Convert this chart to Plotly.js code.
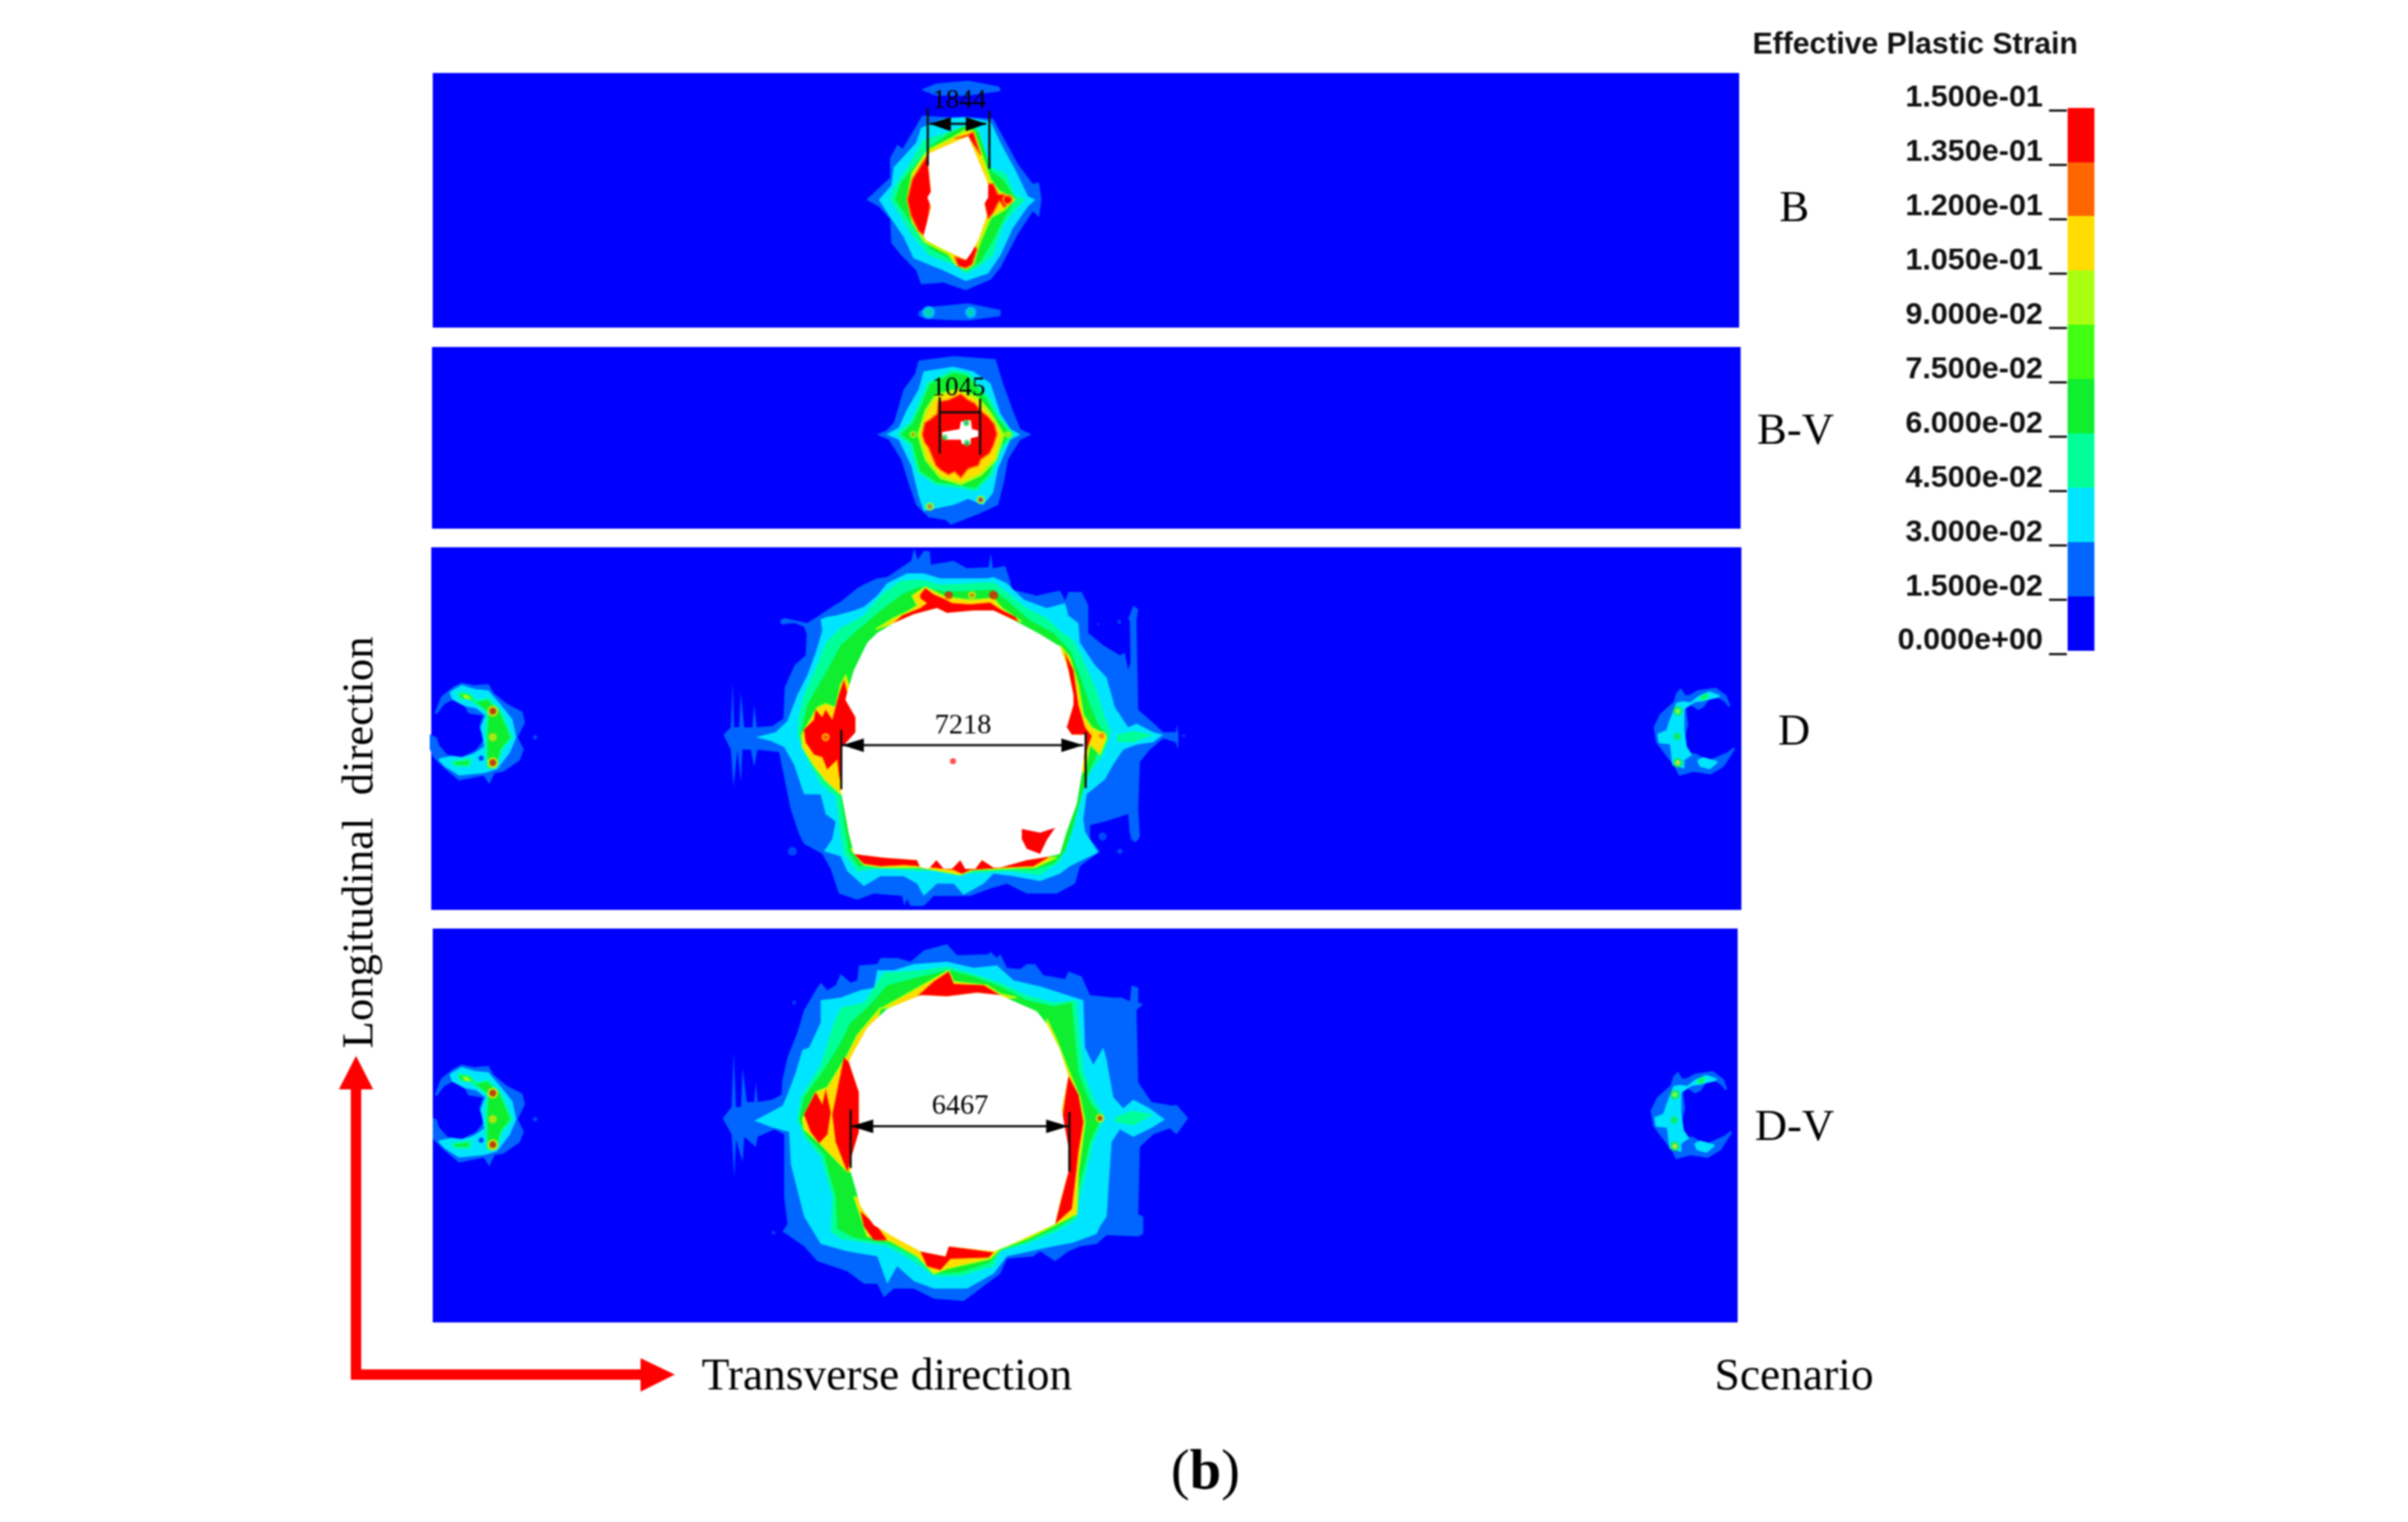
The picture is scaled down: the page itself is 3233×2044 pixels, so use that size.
<!DOCTYPE html>
<html><head><meta charset="utf-8">
<script src="https://cdn.plot.ly/plotly-3.0.1.min.js"></script>
<style>html,body{margin:0;padding:0;background:#fff}#g{width:3233px;height:2044px;filter:blur(0.8px)}</style>
</head><body><div id="g"></div>
<script>
// ---------- legend values ----------
const levels = [0,0.015,0.03,0.045,0.06,0.075,0.09,0.105,0.12,0.135];
const bandHeight = 0.015;
const bandColors = ['#0000ff','#0066ff','#00e5ff','#00ff99','#10ee30','#40ff10','#aaff10','#ffdd00','#ff6600','#ff0000'];
const tickVals = [0,0.015,0.03,0.045,0.06,0.075,0.09,0.105,0.12,0.135,0.15];
const tickText = ['0.000e+00','1.500e-02','3.000e-02','4.500e-02','6.000e-02','7.500e-02','9.000e-02','1.050e-01','1.200e-01','1.350e-01','1.500e-01'];
const scenarios = ['B','B-V','D','D-V'];
const widths = ['1844','1045','7218','6467'];

// ---------- scenario D contours ----------
const D_blue=[[48,800],[70,770],[75,590],[80,770],[95,770],[100,630],[110,770],[135,770],[140,680],[148,770],[195,765],[228,735],[232,610],[262,520],[295,480],[298,395],[290,365],[262,350],[225,355],[218,340],[232,330],[265,340],[300,350],[335,320],[385,275],[400,265],[450,210],[470,195],[510,170],[540,165],[590,120],[612,100],[622,50],[632,95],[650,60],[668,60],[672,115],[740,100],[780,130],[845,125],[852,70],[858,130],[895,120],[910,180],[915,215],[990,240],[1040,225],[1060,220],[1075,260],[1085,225],[1125,225],[1145,280],[1145,390],[1190,440],[1240,480],[1255,470],[1265,540],[1272,510],[1270,340],[1265,335],[1280,280],[1295,295],[1290,340],[1292,460],[1295,700],[1330,740],[1370,790],[1408,790],[1412,760],[1416,800],[1415,860],[1408,830],[1370,815],[1330,860],[1300,910],[1295,1100],[1300,1210],[1285,1235],[1270,1200],[1265,1120],[1195,1150],[1150,1165],[1150,1220],[1180,1270],[1150,1300],[1120,1330],[1105,1400],[1050,1440],[1000,1440],[960,1440],[900,1400],[850,1420],[790,1450],[680,1450],[650,1490],[610,1490],[600,1460],[592,1490],[585,1450],[500,1440],[450,1465],[395,1440],[370,1340],[345,1280],[290,1240],[275,1200],[250,1100],[225,940],[215,870],[150,860],[140,930],[130,860],[105,860],[100,990],[90,860],[78,1010],[70,860]];
const D_cyan=[[145,810],[205,790],[240,745],[270,640],[300,560],[325,470],[345,380],[340,335],[360,325],[385,320],[440,300],[470,285],[510,240],[540,190],[600,150],[650,150],[700,170],[770,170],[840,170],[860,165],[900,190],[950,255],[1020,290],[1075,270],[1085,320],[1115,350],[1120,430],[1165,520],[1200,570],[1225,690],[1265,770],[1290,755],[1340,790],[1370,800],[1340,830],[1290,840],[1250,860],[1220,920],[1195,980],[1140,1040],[1130,1140],[1135,1190],[1175,1275],[1135,1300],[1090,1330],[1060,1360],[1000,1390],[920,1370],[860,1360],[830,1400],[770,1445],[740,1400],[690,1400],[650,1450],[630,1400],[590,1370],[520,1370],[470,1410],[420,1350],[400,1290],[350,1270],[375,1220],[385,1150],[355,1120],[340,1040],[290,1040],[260,920],[230,850],[190,825]];
const D_spring=[[270,800],[275,720],[290,640],[330,520],[355,430],[400,370],[470,320],[520,240],[580,180],[640,175],[700,195],[800,190],[860,185],[900,225],[960,290],[1020,330],[1060,380],[1100,420],[1130,500],[1170,620],[1195,730],[1215,790],[1190,880],[1150,950],[1130,1020],[1105,1150],[1080,1250],[1060,1310],[1000,1365],[900,1350],[780,1360],[700,1345],[640,1350],[530,1340],[450,1350],[410,1280],[400,1200],[385,1050],[340,1000],[300,900]];
const D_green=[[280,800],[300,680],[360,540],[400,440],[450,380],[520,300],[590,230],[640,205],[720,225],[800,220],[860,215],[910,270],[970,340],[1040,390],[1090,460],[1120,560],[1150,680],[1175,760],[1200,800],[1170,880],[1145,960],[1125,1040],[1095,1190],[1075,1270],[1040,1320],[980,1345],[890,1340],[780,1350],[700,1335],[640,1340],[530,1330],[455,1330],[425,1270],[410,1150],[400,1040],[350,970],[310,880]];
const D_tail=[[1230,800],[1280,785],[1340,800],[1280,832],[1230,830]];
const D_yellowL=[[283,800],[318,715],[330,690],[355,675],[385,690],[400,600],[415,560],[425,600],[420,1040],[400,1040],[355,985],[320,925],[285,850]];
const D_yellowT=[[505,375],[560,330],[600,305],[630,280],[615,240],[655,205],[715,245],[790,258],[860,250],[885,290],[945,345],[860,310],[700,300],[600,335]];
const D_yellowR=[[1060,440],[1090,490],[1115,600],[1130,720],[1155,770],[1195,800],[1200,815],[1180,880],[1150,840],[1135,950],[1105,950]];
const D_yellowB=[[430,1260],[470,1325],[520,1335],[640,1335],[760,1365],[800,1345],[890,1340],[985,1335],[1050,1295],[900,1300]];
const D_redL=[[290,780],[320,740],[325,700],[345,730],[355,700],[375,740],[395,640],[410,580],[420,630],[415,660],[445,730],[445,800],[405,850],[405,1020],[395,960],[390,900],[360,940],[345,890],[320,880],[295,830]];
const D_redR=[[1075,470],[1100,540],[1115,680],[1135,770],[1155,805],[1140,860],[1130,900],[1140,800],[1095,800],[1080,770],[1100,680],[1100,640],[1085,540]];
const D_redT=[[640,235],[655,210],[680,235],[715,255],[735,270],[790,275],[850,268],[880,295],[925,325],[935,345],[860,300],[800,300],[720,310],[690,290],[620,315],[560,350],[585,320],[640,290],[660,270],[640,250]];
const D_redB=[[440,1280],[530,1295],[630,1305],[640,1335],[665,1340],[688,1305],[735,1340],[760,1305],[775,1340],[805,1340],[825,1305],[860,1335],[880,1335],[960,1305],[1030,1290],[980,1330],[890,1335],[790,1345],[765,1360],[740,1345],[640,1330],[590,1325],[520,1330],[470,1320]];
const D_hole=[[420,630],[440,540],[480,430],[510,390],[560,350],[620,315],[690,290],[720,310],[800,300],[860,300],[930,345],[1000,395],[1060,445],[1085,540],[1100,640],[1100,680],[1080,770],[1095,800],[1140,800],[1130,900],[1125,960],[1110,1080],[1080,1190],[1060,1280],[1030,1290],[960,1305],[880,1335],[860,1335],[825,1305],[805,1340],[775,1340],[760,1305],[735,1340],[710,1340],[688,1305],[665,1340],[640,1335],[630,1305],[530,1295],[440,1280],[425,1200],[400,1020],[405,850],[445,790],[445,730],[415,660]];
const D_patch=[[945,1180],[1000,1195],[1045,1175],[1020,1225],[1000,1280],[960,1260],[945,1220]];
const D_blueDots=[[255,1270,12],[1188,1210,11],[1240,1270,7],[1238,345,5],[1175,355,3],[228,345,8],[1285,1212,12],[1432,805,4]];
const D_redDots=[[738,907,8],[725,238,11],[860,238,12]];
const D_orangeDots=[[795,238,8],[1185,805,10],[355,810,8]];
const D_rule=[[402,780,402,1020],[1137,790,1137,1015],[405,842,1130,842]];
const D_headL=[[470,815],[405,842],[470,870]];
const D_headR=[[1064,815],[1130,842],[1064,870]];

// ---------- scenario D-V contours ----------
const DV_blue=[[45,785],[72,740],[78,520],[85,740],[100,740],[105,585],[118,720],[140,720],[145,640],[150,720],[195,710],[222,690],[225,630],[240,540],[270,440],[290,350],[325,270],[340,240],[360,270],[385,250],[400,205],[430,240],[450,230],[455,170],[510,165],[520,140],[570,140],[610,155],[650,110],[720,85],[750,130],[845,125],[850,115],[870,140],[880,125],[900,180],[940,185],[960,165],[985,165],[1010,210],[1075,225],[1085,195],[1125,215],[1150,290],[1220,300],[1245,300],[1270,315],[1275,250],[1295,260],[1295,320],[1310,325],[1290,350],[1295,640],[1335,720],[1400,735],[1410,730],[1445,785],[1410,850],[1390,825],[1340,850],[1300,900],[1295,1170],[1310,1180],[1310,1250],[1295,1260],[1200,1255],[1170,1290],[1120,1300],[1085,1320],[1045,1360],[1000,1320],[980,1340],[900,1350],[880,1410],[800,1490],[770,1520],[680,1510],[620,1470],[560,1470],[530,1505],[510,1450],[470,1450],[420,1400],[330,1360],[290,1300],[225,1240],[240,1210],[230,1100],[230,850],[200,830],[150,860],[145,900],[110,860],[105,960],[85,870],[80,1020],[72,850]];
const DV_cyan=[[140,795],[190,760],[225,735],[240,690],[265,600],[285,510],[305,500],[340,400],[340,310],[400,300],[460,270],[500,260],[510,190],[560,190],[620,165],[720,155],[800,180],[870,170],[920,230],[1000,255],[1080,290],[1130,310],[1135,500],[1160,570],[1190,500],[1200,550],[1220,700],[1250,745],[1280,710],[1330,745],[1375,790],[1340,820],[1280,860],[1240,830],[1215,880],[1200,1180],[1180,1220],[1170,1250],[1100,1285],[1040,1300],[900,1340],[860,1410],[780,1470],[680,1470],[620,1440],[570,1380],[540,1450],[510,1340],[420,1320],[340,1290],[290,1180],[250,970],[245,840],[190,820]];
const DV_spring=[[270,790],[280,700],[340,570],[380,400],[400,340],[470,320],[530,200],[640,190],[720,175],[800,205],[880,240],[960,290],[1040,320],[1110,310],[1130,600],[1165,720],[1195,780],[1160,880],[1120,1100],[1110,1190],[1050,1240],[960,1290],[880,1320],[860,1380],[760,1420],[680,1420],[620,1360],[540,1300],[400,1270],[370,1240],[375,1100],[340,940],[290,860]];
const DV_green=[[275,790],[290,700],[350,590],[400,480],[430,400],[480,340],[540,250],[640,215],[725,190],[800,215],[880,255],[960,310],[1040,335],[1095,320],[1115,600],[1150,720],[1185,780],[1150,880],[1110,1100],[1100,1185],[1050,1225],[960,1280],[880,1315],[850,1365],[760,1405],[690,1410],[630,1345],[550,1290],[440,1265],[390,1230],[385,1100],[350,930],[295,850]];
const DV_tail=[[1225,780],[1280,755],[1340,770],[1280,815],[1225,800]];
const DV_yellowL=[[285,790],[325,680],[360,660],[420,530],[450,450],[520,340],[470,600],[455,1000],[420,1000],[340,890],[290,830]];
const DV_yellowT=[[520,345],[600,285],[680,225],[725,190],[740,235],[840,250],[880,285],[930,300],[800,310],[620,320]];
const DV_yellowR=[[1020,385],[1050,470],[1085,590],[1120,700],[1135,800],[1115,1000],[1110,1170],[1045,1215],[1040,900]];
const DV_yellowB=[[440,1100],[480,1260],[550,1280],[630,1340],[680,1410],[720,1390],[850,1350],[880,1310],[960,1270],[1045,1215],[800,1250]];
const DV_redL=[[375,770],[410,540],[425,560],[455,680],[455,840],[430,960],[420,1000],[385,880]];
const DV_redO=[[290,770],[325,680],[345,730],[355,670],[370,760],[360,850],[335,885],[310,840]];
const DV_redR=[[1085,615],[1115,690],[1130,800],[1115,920],[1105,1040],[1095,1150],[1045,1210],[1085,1000],[1065,800]];
const DV_redT=[[630,295],[680,235],[725,195],[740,245],[830,250],[880,290],[810,280],[720,295],[650,290]];
const DV_redLL=[[460,1160],[510,1220],[540,1275],[500,1275],[470,1220]];
const DV_redB=[[640,1320],[715,1340],[725,1300],[860,1325],[845,1345],[730,1350],[700,1395],[660,1380]];
const DV_hole=[[430,540],[480,420],[540,345],[640,290],[720,295],[810,280],[880,290],[990,355],[1020,405],[1060,510],[1085,615],[1065,750],[1085,900],[1085,1000],[1060,1120],[1045,1210],[900,1300],[860,1320],[725,1300],[715,1340],[640,1320],[570,1270],[500,1215],[460,1140],[430,1000],[430,950],[455,840],[455,680],[425,560]];
const DV_redDots=[[1180,785,9]];
const DV_blueDots=[[198,1245,5],[260,320,5]];
const DV_rule=[[430,750,430,985],[1088,760,1088,1000],[430,817,1085,817]];
const DV_headL=[[498,790],[430,817],[498,845]];
const DV_headR=[[1018,790],[1085,817],[1018,845]];

// ---------- scenario B contours ----------
const B_blue=[[190,437],[240,400],[285,365],[285,300],[315,255],[335,270],[395,190],[415,160],[500,165],[590,165],[700,170],[740,230],[800,320],[860,385],[885,380],[895,437],[885,495],[860,475],[800,550],[730,660],[690,700],[590,735],[500,710],[410,715],[390,670],[330,620],[290,580],[285,500],[240,460]];
const B_blueTop=[[410,75],[470,55],[600,45],[725,65],[730,80],[600,95],[470,95]];
const B_blueBot=[[400,805],[440,790],[600,778],[730,800],[730,820],[600,835],[430,830],[400,820]];
const B_cyan=[[240,437],[290,390],[300,330],[390,250],[410,200],[500,170],[590,165],[690,180],[730,250],[790,340],[840,425],[870,437],[840,460],[780,530],[730,620],[680,680],[590,705],[500,670],[380,630],[340,560],[290,500]];
const B_spring=[[285,437],[300,400],[370,310],[420,240],[500,220],[580,195],[640,200],[690,330],[750,350],[790,420],[830,437],[790,470],[740,520],[700,620],[640,660],[590,680],[540,650],[440,620],[370,550],[320,480]];
const B_green=[[305,437],[330,380],[390,320],[440,265],[530,215],[600,190],[640,215],[695,345],[740,370],[790,437],[750,490],[700,570],[650,640],[590,672],[545,640],[450,600],[390,540],[335,470]];
const B_yellow=[[355,437],[375,350],[437,275],[540,232],[590,208],[622,212],[688,370],[725,410],[785,437],[745,470],[690,495],[645,580],[620,650],[590,665],[550,650],[520,615],[425,575],[375,510]];
const B_redL=[[355,437],[375,370],[440,285],[440,330],[450,410],[445,460],[430,560],[400,540],[370,490]];
const B_redR=[[680,385],[700,385],[720,420],[745,420],[775,437],[745,462],[725,440],[700,480],[680,500],[665,450]];
const B_redT=[[545,235],[595,225],[620,215],[650,290],[600,228]];
const B_redB=[[545,625],[590,635],[625,590],[635,600],[615,650],[590,662],[560,655]];
const B_hole=[[440,285],[600,228],[680,385],[680,430],[665,450],[675,490],[640,570],[610,615],[590,635],[500,600],[430,570],[420,555],[437,500],[450,460],[435,430],[450,410],[440,330]];
const B_cyanDots=[[440,808,14],[610,808,12]];
const B_rule=[[437,135,437,325],[685,145,685,335],[445,187,672,187]];
const B_headL=[[530,165],[445,187],[530,212]];
const B_headR=[[590,165],[672,187],[590,212]];

// ---------- scenario B-V contours ----------
const BV_blue=[[232,1208],[270,1195],[300,1170],[340,1060],[385,1010],[400,965],[540,950],[640,955],[710,960],[740,1040],[780,1130],[810,1190],[855,1208],[810,1225],[760,1290],[745,1360],[720,1440],[640,1470],[530,1505],[510,1490],[440,1480],[390,1440],[360,1370],[330,1290],[280,1225]];
const BV_cyan=[[270,1208],[320,1185],[350,1130],[400,1060],[420,1000],[540,985],[620,1000],[690,1040],[730,1140],[770,1190],[810,1208],[770,1225],[720,1320],[700,1400],[660,1440],[600,1420],[540,1440],[420,1460],[400,1410],[370,1310],[320,1225]];
const BV_green=[[320,1208],[370,1170],[400,1120],[440,1040],[540,1000],[600,1010],[680,1090],[720,1150],[780,1208],[725,1260],[690,1340],[630,1390],[570,1380],[470,1370],[400,1330],[370,1240]];
const BV_yellow=[[400,1208],[430,1130],[470,1080],[560,1060],[640,1090],[690,1140],[740,1208],[710,1290],[650,1340],[570,1370],[490,1350],[430,1290]];
const BV_red=[[415,1208],[425,1170],[445,1160],[475,1140],[480,1100],[520,1095],[570,1075],[600,1095],[625,1105],[650,1130],[680,1150],[705,1175],[715,1208],[700,1245],[685,1270],[650,1290],[640,1310],[600,1320],[570,1350],[545,1330],[520,1340],[490,1325],[470,1310],[450,1270],[440,1250],[425,1235]];
const BV_hole=[[495,1200],[565,1190],[570,1165],[610,1160],[615,1190],[640,1195],[640,1215],[610,1220],[610,1240],[575,1240],[570,1225],[510,1225],[495,1215]];
const BV_spots=[[378,1208,7,'#ff6600'],[760,1208,7,'#ffdd00'],[445,1445,9,'#ff6600'],[650,1423,9,'#ff0000']];
const BV_innerBlue=[[592,1170,6],[595,1236,6],[505,1218,5]];
const BV_rule=[[485,1085,485,1270],[648,1090,648,1275],[485,1135,648,1135]];

// ---------- side damage, left end and right end ----------
const SL_blue=[[135,235],[160,170],[210,130],[240,115],[290,125],[345,120],[365,155],[420,200],[480,230],[490,270],[460,330],[485,380],[470,420],[405,465],[370,470],[350,510],[330,480],[230,500],[170,450],[130,410],[110,365],[105,320],[135,335],[145,365],[180,405],[240,415],[300,385],[335,340],[315,290],[330,240],[270,230],[245,185],[200,175],[165,195]];
const SL_cyan=[[195,150],[240,125],[290,140],[345,145],[400,210],[440,260],[455,330],[430,390],[380,455],[330,470],[230,480],[175,445],[150,420],[200,410],[240,415],[290,400],[335,370],[320,290],[340,240],[300,210],[250,200],[205,175]];
const SL_green=[[225,150],[270,155],[300,185],[345,175],[395,225],[440,330],[400,380],[380,450],[345,455],[340,410],[340,300],[345,230],[270,175],[235,175]];
const SL_greenB=[[200,430],[240,425],[275,420],[270,445],[215,445]];
const SL_lime=[[240,158],[262,160],[280,175],[258,178]];
const SL_spots=[[365,225,12,'#ff0000'],[365,330,8,'#aaff10'],[365,433,12,'#ff0000']];
const SL_blueDots=[[318,415,7,'#0000ff'],[535,330,6,'#0066ff']];
const SR_blue=[[425,205],[410,165],[370,135],[300,145],[265,165],[245,165],[230,140],[215,155],[205,190],[150,240],[125,290],[135,350],[180,410],[205,440],[225,480],[280,465],[350,475],[400,445],[445,375],[420,395],[385,410],[340,430],[290,400],[265,400],[250,420],[240,340],[255,280],[245,205],[270,195],[300,215],[320,205],[340,175],[380,165],[410,185]];
const SR_cyan=[[385,165],[345,150],[300,170],[270,195],[240,190],[215,195],[190,260],[175,305],[140,320],[145,350],[190,355],[200,440],[240,450],[240,420],[270,400],[250,370],[240,300],[240,215],[285,185],[320,180]];
const SR_cyanB=[[300,425],[320,415],[375,430],[345,455],[310,445]];
const SR_green=[[310,165],[340,155],[335,175],[310,180]];
const SR_spots=[[218,225,10,'#aaff10'],[215,328,7,'#10ee30'],[218,433,10,'#ffdd00']];

// ---------- red direction arrows (figure axis) ----------
const arrowShaft=[[471,1463],[485,1463],[485,1839],[860,1839],[860,1853],[471,1853]];
const arrowUp=[[455,1463],[478,1418],[501,1463]];
const arrowRight=[[860,1824],[906,1846],[860,1869]];

// ---------- build ----------
const W=3233,H=2044;
const layout={width:W,height:H,margin:{l:0,r:0,t:0,b:0},paper_bgcolor:'#ffffff',plot_bgcolor:'rgba(0,0,0,0)',showlegend:false,bargap:0,shapes:[],annotations:[]};
function win(n,px0,px1,py0,py1,xr,yr){
  const s=n===1?'':n;
  layout['xaxis'+s]={domain:[px0/W,px1/W],range:xr,visible:false,anchor:'y'+s,fixedrange:true};
  layout['yaxis'+s]={domain:[1-py1/H,1-py0/H],range:yr,visible:false,anchor:'x'+s,fixedrange:true};
  return {xaxis:'x'+s,yaxis:'y'+s};
}
const ax={
  B :win(1,581,2335,98,440,[-1557,3705],[858,20]),
  BV:win(2,580,2337,466,710,[-1560,3711],[1518,920]),
  D :win(3,579,2338,735,1222,[-831,3109],[1506,45]),
  DV:win(4,581,2333,1247,1776,[-827,3098],[1606,22]),
  SL1:win(5,577,760,880,1080,[111,660],[600,0]),
  SR1:win(6,2130,2337,880,1080,[-150,471],[600,0]),
  SL2:win(7,581,763,1393,1593,[123,669],[600,0]),
  SR2:win(8,2128,2331,1395,1595,[-144,465],[600,0]),
  LG:win(9,2776,2812,144.6,880,[-0.5,0.5],[-0.0004,0.1509]),
  FIG:win(10,0,W,0,H,[0,W],[H,0])
};
['B','BV','D','DV'].forEach(k=>{
  layout.shapes.push({type:'rect',xref:ax[k].xaxis+' domain',yref:ax[k].yaxis+' domain',x0:0,x1:1,y0:0,y1:1,fillcolor:'#0000ff',line:{width:0},layer:'below'});
});
const traces=[];
function poly(a,pts,color,rim,rw){
  const xs=pts.map(p=>p[0]).concat([pts[0][0]]),ys=pts.map(p=>p[1]).concat([pts[0][1]]);
  traces.push(Object.assign({type:'scatter',mode:'lines',x:xs,y:ys,fill:'toself',fillcolor:color,
    line:rim?{color:rim,width:rw||4}:{width:0},hoverinfo:'skip'},a));
}
function dots(a,pts,color,halo){
  const t={type:'scatter',mode:'markers',x:pts.map(p=>p[0]),y:pts.map(p=>p[1]),hoverinfo:'skip',
    marker:{size:pts.map(p=>p[2]),color:pts.map(p=>p[3]||color),line:{width:halo?3:0,color:halo||color}}};
  traces.push(Object.assign(t,a));
}
function rules(a,segs,w){
  segs.forEach(s=>traces.push(Object.assign({type:'scatter',mode:'lines',x:[s[0],s[2]],y:[s[1],s[3]],line:{color:'#111',width:w||3},hoverinfo:'skip'},a)));
}
const C1='#0066ff',C2='#00e5ff',C3='#00ff99',C4='#10ee30',C5='#aaff10',C6='#ffdd00',C7='#ff0000',W0='#ffffff';

// B
poly(ax.B,B_blueTop,C1);poly(ax.B,B_blueBot,C1);dots(ax.B,B_cyanDots,C3,C2);
poly(ax.B,B_blue,C1);poly(ax.B,B_cyan,C2);poly(ax.B,B_spring,C3);poly(ax.B,B_green,C4);poly(ax.B,B_yellow,C6,C5,3);
[B_redL,B_redR,B_redT,B_redB].forEach(p=>poly(ax.B,p,C7,'#ff6600',2));
dots(ax.B,[[760,437,13]],C7,'#ffaa00');
poly(ax.B,B_hole,W0);
rules(ax.B,B_rule);poly(ax.B,B_headL,'#000');poly(ax.B,B_headR,'#000');

// B-V
poly(ax.BV,BV_blue,C1);poly(ax.BV,BV_cyan,C2);poly(ax.BV,BV_green,C4,C3,4);poly(ax.BV,BV_yellow,C6,C5,4);poly(ax.BV,BV_red,C7,'#ff6600',2);
dots(ax.BV,BV_spots,C7,'#aaff10');
poly(ax.BV,BV_hole,W0);dots(ax.BV,BV_innerBlue,'#0000ff','#10ee30');
rules(ax.BV,BV_rule);

// D
poly(ax.D,D_blue,C1);dots(ax.D,D_blueDots,C1);poly(ax.D,D_cyan,C2);poly(ax.D,D_spring,C3);poly(ax.D,D_green,C4);poly(ax.D,D_tail,C3);
[D_yellowL,D_yellowT,D_yellowR,D_yellowB].forEach(p=>poly(ax.D,p,C6,C5,2));
[D_redL,D_redR,D_redT,D_redB].forEach(p=>poly(ax.D,p,C7,'#ff6600',1));
dots(ax.D,D_orangeDots,'#ff6600','#ffdd00');
poly(ax.D,D_hole,W0);poly(ax.D,D_patch,C7);dots(ax.D,D_redDots,C7);
rules(ax.D,D_rule);poly(ax.D,D_headL,'#000');poly(ax.D,D_headR,'#000');

// D-V
poly(ax.DV,DV_blue,C1);dots(ax.DV,DV_blueDots,C1);poly(ax.DV,DV_cyan,C2);poly(ax.DV,DV_spring,C3);poly(ax.DV,DV_green,C4);poly(ax.DV,DV_tail,C3);
[DV_yellowL,DV_yellowT,DV_yellowR,DV_yellowB].forEach(p=>poly(ax.DV,p,C6,C5,2));
[DV_redL,DV_redO,DV_redR,DV_redT,DV_redLL,DV_redB].forEach(p=>poly(ax.DV,p,C7,'#ff6600',1));
dots(ax.DV,DV_redDots,C7,'#ffdd00');
poly(ax.DV,DV_hole,W0);
rules(ax.DV,DV_rule);poly(ax.DV,DV_headL,'#000');poly(ax.DV,DV_headR,'#000');

// side damage
[ax.SL1,ax.SL2].forEach(a=>{poly(a,SL_blue,C1,C1,3);poly(a,SL_cyan,C2,C2,3);poly(a,SL_green,C4,C3,3);poly(a,SL_greenB,C4,C3,3);poly(a,SL_lime,C5);dots(a,SL_spots,C7,'#ffdd00');dots(a,SL_blueDots,C1);});
[ax.SR1,ax.SR2].forEach(a=>{poly(a,SR_blue,C1,C1,3);poly(a,SR_cyan,C2,C2,3);poly(a,SR_cyanB,C2,C2,3);poly(a,SR_green,C4,C3,3);dots(a,SR_spots,C6,'#10ee30');});

// legend bars
traces.push(Object.assign({type:'bar',x:levels.map(()=>0),y:levels.map(()=>bandHeight),base:levels.map(l=>l+0.0009),width:1,
  marker:{color:bandColors,line:{width:0}},hoverinfo:'skip'},ax.LG));
Object.assign(layout.yaxis9,{visible:true,showgrid:false,zeroline:false,showline:false,tickmode:'array',tickvals:tickVals,ticktext:tickText,
  ticks:'outside',ticklen:24,tickwidth:3,tickcolor:'#111',ticklabelstandoff:0,ticklabelshift:-20,
  tickfont:{family:'Liberation Sans',size:41,color:'#111',weight:700}});

// red direction arrows
poly(ax.FIG,arrowShaft,'#ff0000');poly(ax.FIG,arrowUp,'#ff0000');poly(ax.FIG,arrowRight,'#ff0000');

// text
function note(k,x,y,text,size,extra){
  layout.annotations.push(Object.assign({xref:ax[k].xaxis,yref:ax[k].yaxis,x,y,text,showarrow:false,xanchor:'center',yanchor:'middle',
    font:{family:'Liberation Serif',size,color:'#000'}},extra||{}));
}
note('B',563,105,widths[0],36);
note('BV',562,1050,widths[1],36);
note('D',768,755,widths[2],38);
note('DV',758,728,widths[3],38);
note('FIG',2409,277,scenarios[0],60);
note('FIG',2410,576,scenarios[1],60);
note('FIG',2408,980,scenarios[2],60);
note('FIG',2409,1511,scenarios[3],60);
note('FIG',480,1132,'Longitudinal&nbsp;&nbsp;direction',60,{textangle:-90});
note('FIG',1191,1845,'Transverse direction',61);
note('FIG',2408,1845,'Scenario',61);
note('FIG',1618,1973,'(<b>b</b>)',76);
note('FIG',2571,58,'Effective Plastic Strain',40.5,{font:{family:'Liberation Sans',size:40.5,color:'#111',weight:700}});

Plotly.newPlot('g',traces,layout,{staticPlot:true,displayModeBar:false});
</script></body></html>
